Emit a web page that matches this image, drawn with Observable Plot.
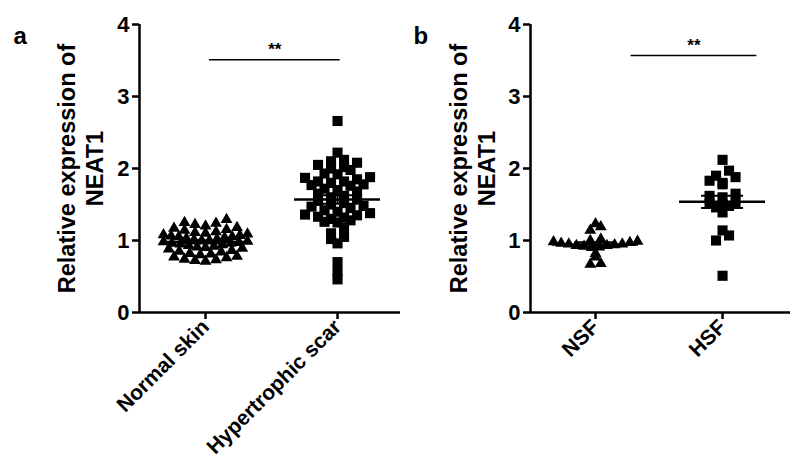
<!DOCTYPE html>
<html><head><meta charset="utf-8">
<script src="https://cdn.jsdelivr.net/npm/d3@7"></script>
<script src="https://cdn.jsdelivr.net/npm/@observablehq/plot@0.6"></script>
<style>
body{margin:0;background:#fff;}
#wrap{display:flex;width:800px;height:471px;overflow:hidden;}
#wrap svg{font-family:"Liberation Sans",Arial,sans-serif;}
</style></head><body><div id="wrap"></div>
<script>
// ---- data ----
const panelACategories = ["Normal skin", "Hypertrophic scar"];
const normalSkin = [1.29,1.25,1.24,1.22,1.20,1.18,1.17,1.15,1.14,1.12,1.11,1.10,1.09,1.08,1.07,1.06,1.05,1.05,1.04,1.03,1.02,1.01,1.00,1.00,0.99,0.98,0.97,0.96,0.96,0.95,0.94,0.93,0.92,0.91,0.90,0.89,0.88,0.86,0.85,0.84,0.82,0.81,0.80,0.78,0.77,0.76,0.74,0.73,0.72,0.71];
const hypertrophicScar = [2.66,2.22,2.12,2.10,2.08,2.05,2.02,2.00,1.98,1.93,1.92,1.88,1.87,1.85,1.82,1.82,1.80,1.78,1.77,1.76,1.72,1.70,1.68,1.65,1.62,1.60,1.58,1.55,1.52,1.50,1.48,1.47,1.45,1.42,1.40,1.38,1.36,1.35,1.33,1.32,1.30,1.28,1.26,1.25,1.18,1.10,1.05,1.02,0.96,0.70,0.57,0.46];
const panelBCategories = ["NSF", "HSF"];
const nsf = [1.23,1.19,1.14,1.02,1.00,0.99,0.98,0.97,0.96,0.95,0.95,0.94,0.93,0.93,0.92,0.91,0.90,0.82,0.77,0.68,0.67];
const hsf = [2.12,1.97,1.90,1.88,1.83,1.80,1.78,1.65,1.62,1.60,1.52,1.51,1.50,1.48,1.46,1.39,1.14,1.07,1.00,0.51];
const yTicks = [0, 1, 2, 3, 4];
const yTitle = "Relative expression of\nNEAT1";
const panelLetters = ["a", "b"];
const significance = ["**", "**"];
// significance brackets (in category-index units and y units)
const bracketA = {from: 0.03, to: 1.02, y: 3.51};
const bracketB = {from: 0.28, to: 1.27, y: 3.57};

// ---- helpers ----
function swarm(values, idx, stepU, halfU, binH) {
  const bins = d3.groups(values, v => Math.floor(v / binH + 1e-9));
  const out = [];
  for (const [, vs] of bins) {
    const s = vs.slice().sort(d3.ascending);
    const n = s.length;
    const sp = n > 1 ? Math.min(stepU, 2 * halfU / (n - 1)) : 0;
    const slots = d3.range(n).map(k => (k - (n - 1) / 2) * sp);
    slots.sort((a, b) => Math.abs(a) - Math.abs(b) || a - b);
    s.forEach((v, j) => out.push({x: idx + slots[j], y: v}));
  }
  return out;
}
function stats(values, i) {
  const m = d3.mean(values);
  const se = d3.deviation(values) / Math.sqrt(values.length);
  return {i, mean: m, lo: m - se, hi: m + se};
}

function panel({cats, groups, symbols, rs, steps, letter, sig, bracket, width, marginLeft, marginRight, xDomain, pxPerUnit, titleDx}) {
  const halfU = 42 / pxPerUnit;
  const pts = groups.map((g, i) => swarm(g, i, steps[i] / pxPerUnit, halfU, 0.1));
  const st = groups.map((g, i) => stats(g, i));
  const meanHalf = 43 / pxPerUnit, capHalf = 21 / pxPerUnit;
  return Plot.plot({
    width, height: 471,
    marginTop: 24, marginBottom: 159, marginLeft, marginRight,
    style: {fontFamily: "Liberation Sans, Arial, sans-serif", fontSize: "21px", fontWeight: "bold", color: "#000", background: "#fff"},
    x: {type: "linear", domain: xDomain},
    y: {domain: [0, 4]},
    marks: [
      Plot.axisY({ticks: yTicks, tickFormat: d3.format("d"), tickSize: 7, tickPadding: 3, fontSize: 22, fontWeight: "bold", strokeWidth: 2.5, label: null}),
      Plot.axisX({ticks: [0, 1], tickFormat: i => cats[i], tickSize: 7, tickPadding: 4, tickRotate: -45, fontSize: 21, fontWeight: "bold", strokeWidth: 2.5, label: null}),
      Plot.ruleY([0], {strokeWidth: 2.5}),
      Plot.ruleX([xDomain[0]], {strokeWidth: 2.5}),
      Plot.dot(pts[0], {x: "x", y: "y", symbol: symbols[0], r: rs[0], fill: "#000", stroke: "none"}),
      Plot.dot(pts[1], {x: "x", y: "y", symbol: symbols[1], r: rs[1], fill: "#000", stroke: "none"}),
      Plot.ruleY(st, {y: "mean", x1: d => d.i - meanHalf, x2: d => d.i + meanHalf, strokeWidth: 2.5}),
      Plot.ruleX(st, {x: "i", y1: "lo", y2: "hi", strokeWidth: 2}),
      Plot.ruleY(st, {y: "lo", x1: d => d.i - capHalf, x2: d => d.i + capHalf, strokeWidth: 2}),
      Plot.ruleY(st, {y: "hi", x1: d => d.i - capHalf, x2: d => d.i + capHalf, strokeWidth: 2}),
      Plot.ruleY([bracket], {y: "y", x1: "from", x2: "to", strokeWidth: 1.5}),
      Plot.text([bracket], {x: d => (d.from + d.to) / 2, y: "y", text: () => sig, dy: -10, fontSize: 17, fontWeight: "bold"}),
      Plot.text([yTitle], {frameAnchor: "left", text: d => d, rotate: -90, dx: titleDx, fontSize: 23.5, fontWeight: "bold", lineHeight: 1.17, textAnchor: "middle", lineAnchor: "middle"}),
      Plot.text([letter], {frameAnchor: "top-left", text: d => d, dx: -(marginLeft - 13), dy: 2, textAnchor: "start", fontSize: 24, fontWeight: "bold"})
    ]
  });
}

const wrap = document.getElementById("wrap");
wrap.append(panel({
  cats: panelACategories, groups: [normalSkin, hypertrophicScar],
  symbols: ["triangle", "square"], rs: [4.4, 5.7], steps: [10.5, 13],
  letter: panelLetters[0], sig: significance[0], bracket: bracketA,
  width: 400, marginLeft: 139, marginRight: 0,
  xDomain: [-0.5, 1.477], pxPerUnit: 132, titleDx: -59.5
}));
wrap.append(panel({
  cats: panelBCategories, groups: [nsf, hsf],
  symbols: ["triangle", "square"], rs: [4.4, 5.7], steps: [10.5, 13],
  letter: panelLetters[1], sig: significance[1], bracket: bracketB,
  width: 400, marginLeft: 130, marginRight: 10,
  xDomain: [-0.512, 1.535], pxPerUnit: 127, titleDx: -58.5
}));
</script></body></html>
